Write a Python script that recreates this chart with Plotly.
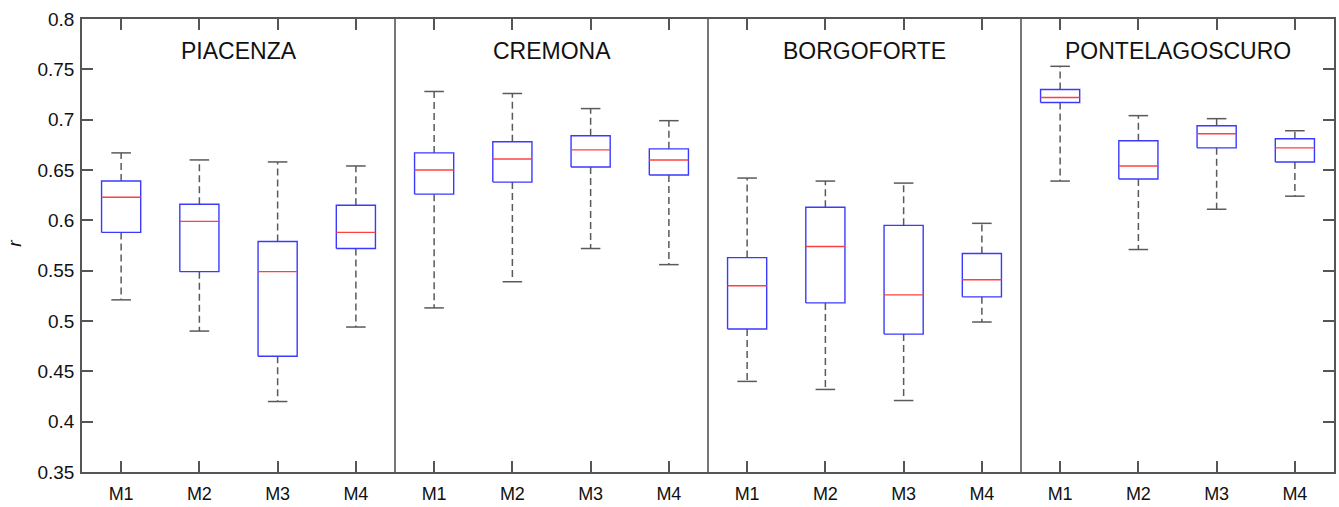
import plotly.graph_objects as go

stations = ["PIACENZA", "CREMONA", "BORGOFORTE", "PONTELAGOSCURO"]
methods = ["M1", "M2", "M3", "M4"]

# statistics per box, ordered station by station, M1..M4 within each station
upper_whisker = [0.667, 0.660, 0.658, 0.654,
                 0.728, 0.726, 0.711, 0.699,
                 0.642, 0.639, 0.637, 0.597,
                 0.753, 0.704, 0.701, 0.689]
q3 = [0.639, 0.616, 0.579, 0.615,
      0.667, 0.678, 0.684, 0.671,
      0.563, 0.613, 0.595, 0.567,
      0.730, 0.679, 0.694, 0.681]
median = [0.623, 0.599, 0.549, 0.588,
          0.650, 0.661, 0.670, 0.660,
          0.535, 0.574, 0.526, 0.541,
          0.722, 0.654, 0.686, 0.672]
q1 = [0.588, 0.549, 0.465, 0.572,
      0.626, 0.638, 0.653, 0.645,
      0.492, 0.518, 0.487, 0.524,
      0.717, 0.641, 0.672, 0.658]
lower_whisker = [0.521, 0.490, 0.420, 0.494,
                 0.513, 0.539, 0.572, 0.556,
                 0.440, 0.432, 0.421, 0.499,
                 0.639, 0.571, 0.611, 0.624]

y_ticks = [0.35, 0.4, 0.45, 0.5, 0.55, 0.6, 0.65, 0.7, 0.75, 0.8]
y_ticktext = ["0.35", "0.4", "0.45", "0.5", "0.55", "0.6", "0.65", "0.7", "0.75", "0.8"]

n_m = len(methods)
positions = [s * n_m + m + 1 for s in range(len(stations)) for m in range(n_m)]
tick_labels = [methods[m] for s in range(len(stations)) for m in range(n_m)]

box_half = 0.25
cap_half = 0.125

bx, by = [], []
mx, my = [], []
wx, wy = [], []
cx, cy = [], []
for i, x in enumerate(positions):
    bx += [x - box_half, x + box_half, x + box_half, x - box_half, x - box_half, None]
    by += [q1[i], q1[i], q3[i], q3[i], q1[i], None]
    mx += [x - box_half, x + box_half, None]
    my += [median[i], median[i], None]
    wx += [x, x, None, x, x, None]
    wy += [q3[i], upper_whisker[i], None, q1[i], lower_whisker[i], None]
    cx += [x - cap_half, x + cap_half, None, x - cap_half, x + cap_half, None]
    cy += [upper_whisker[i], upper_whisker[i], None, lower_whisker[i], lower_whisker[i], None]

FONT = "Arial, Liberation Sans, sans-serif"

fig = go.Figure()
fig.add_trace(go.Scatter(x=wx, y=wy, mode="lines", line=dict(color="#5a5a5a", width=1.5, dash="7px,4px"),
                         hoverinfo="skip", showlegend=False))
fig.add_trace(go.Scatter(x=cx, y=cy, mode="lines", line=dict(color="#5a5a5a", width=1.5),
                         hoverinfo="skip", showlegend=False))
fig.add_trace(go.Scatter(x=bx, y=by, mode="lines", line=dict(color="#3a3aff", width=1.4),
                         hoverinfo="skip", showlegend=False))
fig.add_trace(go.Scatter(x=mx, y=my, mode="lines", line=dict(color="#ff4040", width=1.4),
                         hoverinfo="skip", showlegend=False))

# panel separators and titles
for s in range(len(stations)):
    if s > 0:
        fig.add_shape(type="line", xref="x", yref="paper", x0=s * n_m + 0.5, x1=s * n_m + 0.5,
                      y0=0, y1=1, line=dict(color="#555555", width=1.6))
    fig.add_annotation(x=s * n_m + (n_m + 1) / 2, y=0.768, xref="x", yref="y", text=stations[s],
                       showarrow=False, font=dict(family=FONT, size=23, color="#111111"),
                       xanchor="center", yanchor="middle")

fig.add_annotation(x=-0.054, y=0.505, xref="paper", yref="paper", text="<i>r</i>", showarrow=False,
                   textangle=-90, xanchor="center", yanchor="middle",
                   font=dict(family=FONT, size=19, color="#111111"))

fig.update_layout(
    width=1339, height=507,
    margin=dict(l=82, r=3, t=19, b=24),
    paper_bgcolor="white", plot_bgcolor="white",
    font=dict(family=FONT, color="#111111"),
    xaxis=dict(range=[0.5, len(positions) + 0.5], tickvals=positions, ticktext=tick_labels,
               ticks="inside", ticklen=11, tickcolor="#555555", tickwidth=1.5,
               showline=True, linecolor="#555555", linewidth=1.6, mirror="ticks",
               showgrid=False, zeroline=False, tickfont=dict(size=18), ticklabelstandoff=5),
    yaxis=dict(range=[0.35, 0.8], tickvals=y_ticks, ticktext=y_ticktext,
               ticks="inside", ticklen=11, tickcolor="#555555", tickwidth=1.5,
               showline=True, linecolor="#555555", linewidth=1.6, mirror="ticks",
               showgrid=False, zeroline=False, tickfont=dict(size=19), ticklabelstandoff=2),
)

fig.write_html("out.html")
